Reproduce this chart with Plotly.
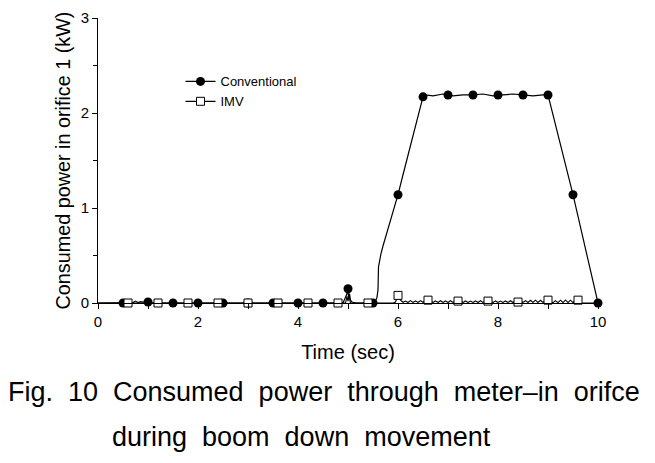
import plotly.graph_objects as go

# ---------------- data ----------------
conv_t = [0.0, 0.5, 0.7, 0.75, 0.8, 0.85, 0.9, 1.0, 1.1, 1.5, 2.0, 2.5, 3.0, 3.5, 4.0, 4.5, 4.9,
          4.95, 4.98, 5.0, 5.01, 5.03, 5.05, 5.08, 5.15, 5.5, 5.55, 5.58, 5.6, 5.61, 5.63, 5.66,
          5.7, 5.8, 5.9, 6.0, 6.1, 6.2, 6.3, 6.4, 6.5, 6.55, 6.7, 6.9, 7.1, 7.3, 7.5, 7.7, 7.9,
          8.1, 8.3, 8.5, 8.7, 8.9, 9.0, 9.5, 10.0]
conv_v = [0.0, 0.0, 0.005, 0.02, 0.005, 0.015, 0.01, 0.01, 0.0, 0.0, 0.0, 0.0, 0.0, 0.0, 0.0, 0.0, 0.0,
          0.06, 0.1, 0.15, 0.05, 0.1, 0.03, 0.01, 0.0, 0.0, 0.02, 0.06, 0.14, 0.38, 0.46, 0.52,
          0.6, 0.78, 0.96, 1.14, 1.35, 1.56, 1.77, 1.97, 2.17, 2.19, 2.18, 2.2, 2.18, 2.19, 2.19, 2.2, 2.18,
          2.19, 2.2, 2.19, 2.18, 2.19, 2.19, 1.14, 0.0]

conv_mt = [0.5, 1.0, 1.5, 2.0, 2.5, 3.0, 3.5, 4.0, 4.5, 5.0, 5.5, 6.0, 6.5, 7.0, 7.5, 8.0, 8.5, 9.0, 9.5, 10.0]
conv_mv = [0.0, 0.01, 0.0, 0.0, 0.0, 0.0, 0.0, 0.0, 0.0, 0.15, 0.0, 1.14, 2.17, 2.19, 2.19, 2.19, 2.19, 2.19, 1.14, 0.0]

imv_t = [0.0, 4.95, 4.98, 5.0, 5.02, 5.05, 5.1, 5.9, 5.95, 6.0, 6.05,
         6.10, 6.15, 6.20, 6.25, 6.30, 6.35, 6.40, 6.45, 6.50, 6.55, 6.60, 6.65, 6.70, 6.75,
         6.80, 6.85, 6.90, 6.95, 7.00, 7.05, 7.10, 7.15, 7.20, 7.25, 7.30, 7.35, 7.40, 7.45,
         7.50, 7.55, 7.60, 7.65, 7.70, 7.75, 7.80, 7.85, 7.90, 7.95, 8.00, 8.05, 8.10, 8.15,
         8.20, 8.25, 8.30, 8.35, 8.40, 8.45, 8.50, 8.55, 8.60, 8.65, 8.70, 8.75, 8.80, 8.85,
         8.90, 8.95, 9.00, 9.05, 9.10, 9.15, 9.20, 9.25, 9.30, 9.35, 9.40, 9.45, 9.50, 9.55,
         9.60, 9.65, 10.0]
imv_v = [0.0, 0.0, 0.07, 0.02, 0.07, 0.0, 0.0, 0.0, 0.01, 0.08, 0.03,
         0.008, 0.02, 0.005, 0.025, 0.006, 0.022, 0.005, 0.025, 0.008, 0.024, 0.03, 0.025, 0.006, 0.022,
         0.005, 0.024, 0.006, 0.022, 0.005, 0.024, 0.006, 0.022, 0.02, 0.024, 0.006, 0.022, 0.005, 0.02,
         0.006, 0.022, 0.005, 0.024, 0.006, 0.022, 0.02, 0.024, 0.005, 0.022, 0.006, 0.02, 0.005, 0.022,
         0.006, 0.024, 0.005, 0.022, 0.015, 0.022, 0.006, 0.025, 0.005, 0.028, 0.006, 0.03, 0.005, 0.028,
         0.006, 0.025, 0.03, 0.02, 0.004, 0.025, 0.004, 0.03, 0.004, 0.032, 0.004, 0.03, 0.004, 0.032,
         0.03, 0.0, 0.0]

imv_mt = [0.6, 1.2, 1.8, 2.4, 3.0, 3.6, 4.2, 4.8, 5.4, 6.0, 6.6, 7.2, 7.8, 8.4, 9.0, 9.6]
imv_mv = [0.0, 0.0, 0.0, 0.0, 0.0, 0.0, 0.0, 0.0, 0.0, 0.08, 0.03, 0.02, 0.02, 0.01, 0.03, 0.03]

series_names = ["Conventional", "IMV"]
x_title = "Time (sec)"
y_title = "Consumed power in orifice 1 (kW)"
caption1 = "Fig.\u00a0\u00a010\u00a0\u00a0Consumed\u00a0\u00a0power\u00a0\u00a0through\u00a0\u00a0meter\u2013in\u00a0\u00a0orifce"
caption2 = "during\u00a0\u00a0boom\u00a0\u00a0down\u00a0\u00a0movement"

FONT = "Liberation Sans, Arial, sans-serif"

fig = go.Figure()
fig.add_trace(go.Scatter(x=conv_t, y=conv_v, mode="lines", line=dict(color="black", width=1.2),
                         showlegend=False, hoverinfo="skip", cliponaxis=False))
fig.add_trace(go.Scatter(x=imv_t, y=imv_v, mode="lines", line=dict(color="black", width=1.1),
                         showlegend=False, hoverinfo="skip", cliponaxis=False))
fig.add_trace(go.Scatter(x=conv_mt, y=conv_mv, mode="markers",
                         marker=dict(symbol="circle", size=9, color="black"),
                         showlegend=False, cliponaxis=False))
fig.add_trace(go.Scatter(x=imv_mt, y=imv_mv, mode="markers",
                         marker=dict(symbol="square", size=8, color="white",
                                     line=dict(color="black", width=1)),
                         showlegend=False, cliponaxis=False))
# legend entries
fig.add_trace(go.Scatter(x=[None], y=[None], mode="lines+markers", name=series_names[0],
                         line=dict(color="black", width=1.2),
                         marker=dict(symbol="circle", size=9, color="black")))
fig.add_trace(go.Scatter(x=[None], y=[None], mode="lines+markers", name=series_names[1],
                         line=dict(color="black", width=1.2),
                         marker=dict(symbol="square", size=8, color="white",
                                     line=dict(color="black", width=1))))

# page body has an 8px default margin, so the figure is drawn 8px in from the window edge
fig.update_layout(
    width=647, height=455,
    margin=dict(l=90, r=57, t=10, b=160, autoexpand=False),
    paper_bgcolor="white", plot_bgcolor="white",
    font=dict(family=FONT, color="black"),
    showlegend=True,
    legend=dict(x=0.165, y=0.83, xanchor="left", yanchor="top",
                bgcolor="rgba(0,0,0,0)", font=dict(size=13, family=FONT),
                tracegroupgap=0, itemwidth=30),
    xaxis=dict(range=[0, 10], showgrid=False, zeroline=False, showline=True, automargin=False,
               linecolor="black", linewidth=1, ticks="outside", ticklen=5, tickwidth=1,
               tickcolor="black", tickvals=[0, 2, 4, 6, 8, 10],
               minor=dict(tickvals=[1, 3, 5, 7, 9], ticks="outside", ticklen=5,
                          tickcolor="black", tickwidth=1),
               tickfont=dict(size=15, family=FONT),
               title=dict(text=x_title, font=dict(size=20, family=FONT))),
    yaxis=dict(range=[0, 3], showgrid=False, zeroline=False, showline=True, automargin=False,
               linecolor="black", linewidth=1, ticks="outside", ticklen=5, tickwidth=1,
               tickcolor="black", tickvals=[0, 1, 2, 3],
               minor=dict(tickvals=[0.5, 1.5, 2.5], ticks="outside", ticklen=4,
                          tickcolor="black", tickwidth=1),
               tickfont=dict(size=15, family=FONT),
               title=dict(text=y_title, font=dict(size=19.8, family=FONT), standoff=4)),
    annotations=[
        dict(text=caption1, xref="paper", yref="paper", x=-0.184, y=-0.251,
             xanchor="left", yanchor="top", showarrow=False,
             font=dict(size=27, family=FONT, color="black")),
        dict(text=caption2, xref="paper", yref="paper", x=0.024, y=-0.409,
             xanchor="left", yanchor="top", showarrow=False,
             font=dict(size=27, family=FONT, color="black")),
    ],
)

fig.write_html("out.html")
